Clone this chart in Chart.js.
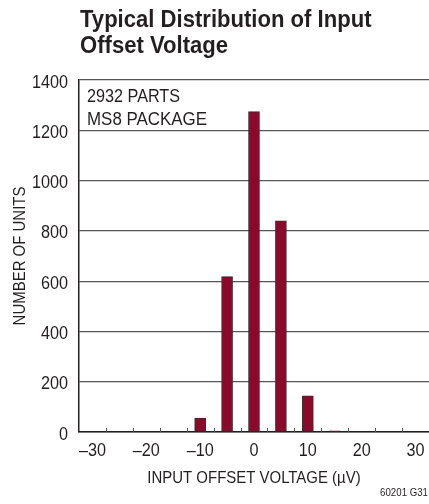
<!DOCTYPE html>
<html>
<head>
<meta charset="utf-8">
<script src="https://cdn.jsdelivr.net/npm/chart.js@4.4.0/dist/chart.umd.min.js"></script>
<style>
  html, body { margin: 0; padding: 0; background: #fff; }
  #wrap { width: 429px; height: 504px; position: relative; }
</style>
</head>
<body>
<div id="wrap"><canvas id="histChart" width="429" height="504"></canvas></div>
<script>
// data
const binCenters = [-10, -5, 0, 5, 10, 15];
const unitCounts = [55, 618, 1274, 840, 144, 5];
const binEdges = [-27.5, -22.5, -17.5, -12.5, -7.5, -2.5, 2.5, 7.5, 12.5, 17.5, 22.5, 27.5];
const xTicks = [-30, -20, -10, 0, 10, 20, 30];
const yTicks = [0, 200, 400, 600, 800, 1000, 1200, 1400];
const titleLines = ['Typical Distribution of Input', 'Offset Voltage'];
const noteLines = ['2932 PARTS', 'MS8 PACKAGE'];
const xTitle = 'INPUT OFFSET VOLTAGE (\u00b5V)';
const yTitle = 'NUMBER OF UNITS';
const figureId = '60201 G31';

// no condensed face installed, so squeeze Liberation Sans horizontally
const FONT = "'Liberation Sans', Arial, sans-serif";
const INK = '#231f20';

function squeezeText(ctx, text, x, y, font, align, sx, rot) {
  ctx.save();
  ctx.font = font;
  ctx.textAlign = align;
  ctx.textBaseline = 'alphabetic';
  ctx.translate(x, y);
  if (rot) ctx.rotate(rot);
  ctx.scale(sx, 1);
  ctx.fillText(text, 0, 0);
  ctx.restore();
}

const fmtTick = (v) => (v < 0 ? '\u2013' + Math.abs(v) : String(v));

// all the text plus small tick marks at the bin edges
const extrasPlugin = {
  id: 'extras',
  afterDraw(chart) {
    const { ctx, chartArea, scales } = chart;
    ctx.save();
    ctx.fillStyle = INK;

    squeezeText(ctx, titleLines[0], 80, 27, `bold 23px ${FONT}`, 'left', 0.96);
    squeezeText(ctx, titleLines[1], 80, 53, `bold 23px ${FONT}`, 'left', 0.96);

    squeezeText(ctx, noteLines[0], chartArea.left + 8, 102, `18px ${FONT}`, 'left', 0.9);
    squeezeText(ctx, noteLines[1], chartArea.left + 8, 125, `18px ${FONT}`, 'left', 0.94);

    yTicks.forEach(v => {
      const py = scales.y.getPixelForValue(v);
      squeezeText(ctx, String(v), chartArea.left - 11, py + 7.5, `18px ${FONT}`, 'right', 0.9);
    });
    xTicks.forEach(v => {
      const px = scales.x.getPixelForValue(v);
      squeezeText(ctx, fmtTick(v), px, 456, `18px ${FONT}`, 'center', 0.9);
    });

    const midY = (chartArea.top + chartArea.bottom) / 2;
    squeezeText(ctx, xTitle, scales.x.getPixelForValue(0), 483, `17px ${FONT}`, 'center', 0.88);
    squeezeText(ctx, yTitle, 25, midY, `17px ${FONT}`, 'center', 0.88, -Math.PI / 2);

    squeezeText(ctx, figureId, 428, 496, `11px ${FONT}`, 'right', 0.88);

    ctx.strokeStyle = '#555';
    ctx.lineWidth = 1;
    binEdges.forEach(v => {
      const px = Math.round(scales.x.getPixelForValue(v)) + 0.5;
      ctx.beginPath();
      ctx.moveTo(px, chartArea.bottom);
      ctx.lineTo(px, chartArea.bottom - 4);
      ctx.stroke();
    });
    ctx.restore();
  }
};

new Chart(document.getElementById('histChart').getContext('2d'), {
  type: 'bar',
  data: {
    datasets: [{
      data: binCenters.map((x, i) => ({ x, y: unitCounts[i] })),
      backgroundColor: '#8b0a2c',
      borderColor: '#3a2a2a',
      borderWidth: 1,
      borderSkipped: false,
      barThickness: 11
    }]
  },
  options: {
    responsive: false,
    animation: false,
    layout: { padding: { top: 80, right: 0, left: 0, bottom: 0 } },
    plugins: {
      legend: { display: false },
      tooltip: { enabled: false }
    },
    scales: {
      x: {
        type: 'linear',
        min: -32.5,
        max: 32.5,
        offset: false,
        afterBuildTicks: (scale) => { scale.ticks = xTicks.map(v => ({ value: v })); },
        afterFit: (scale) => { scale.height = 72; },
        grid: { display: false, drawTicks: false },
        border: { display: true, color: INK, width: 1.5 },
        ticks: { display: false }
      },
      y: {
        min: 0,
        max: 1400,
        afterBuildTicks: (scale) => { scale.ticks = yTicks.map(v => ({ value: v })); },
        afterFit: (scale) => { scale.width = 79; },
        grid: { color: '#555', lineWidth: 1.2, drawTicks: false },
        border: { display: true, color: INK, width: 1.5 },
        ticks: { display: false }
      }
    }
  },
  plugins: [extrasPlugin]
});
</script>
</body>
</html>
